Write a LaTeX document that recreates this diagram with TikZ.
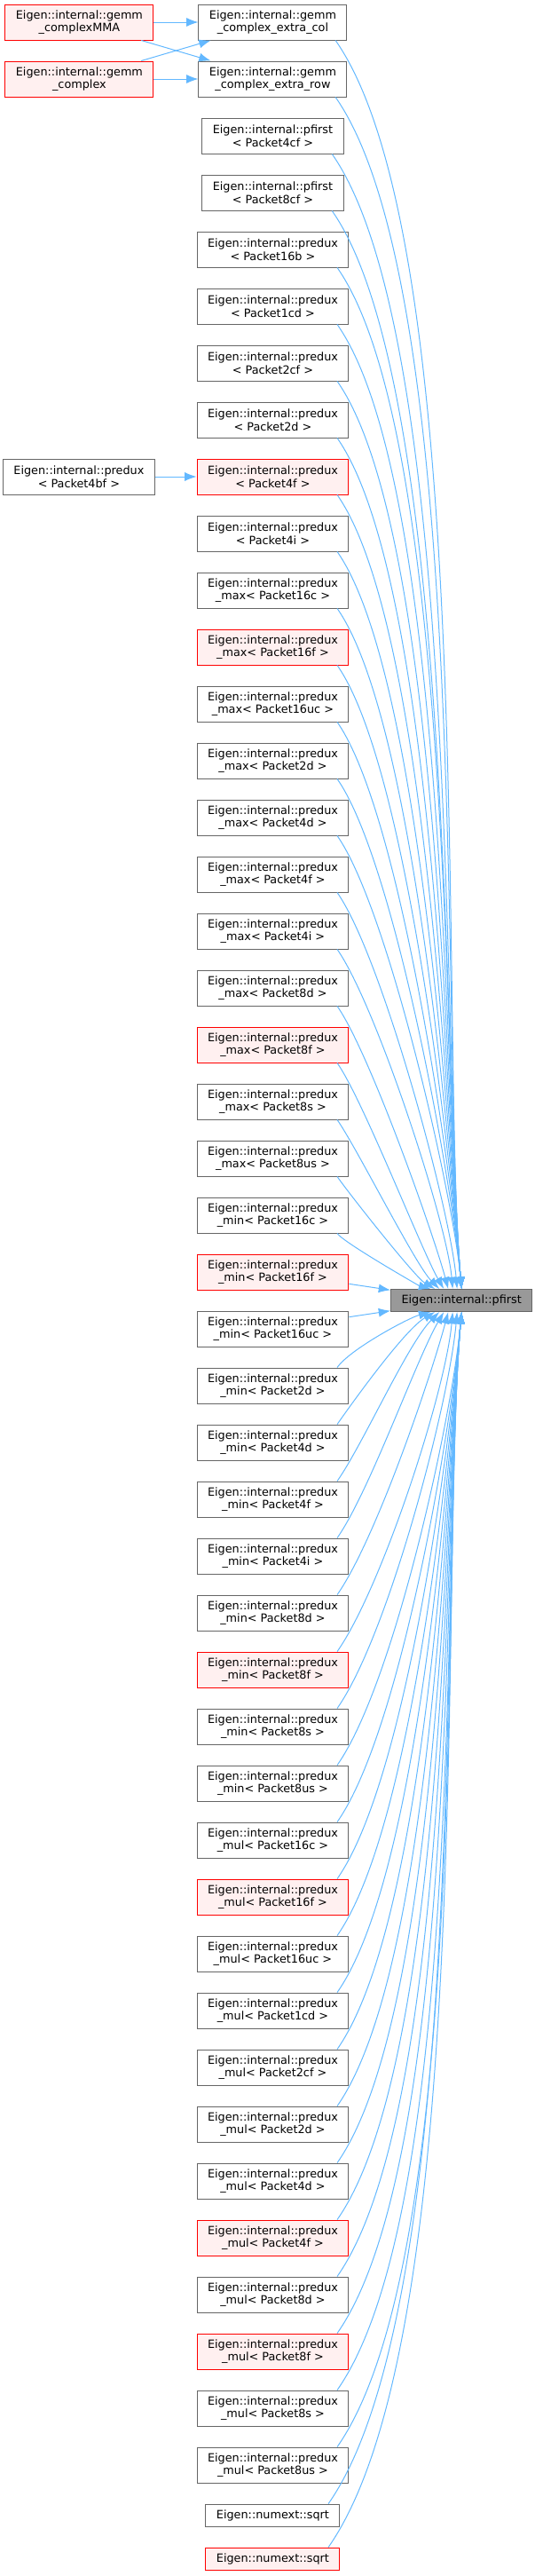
\documentclass[tikz,border=0pt]{standalone}
\usepackage{fontspec}
\setmainfont{DejaVu Sans}
\usepackage{tikz}
\usetikzlibrary{arrows.meta,positioning,calc}
\definecolor{bord}{HTML}{666666}
\definecolor{rouge}{HTML}{FF0000}
\definecolor{rose}{HTML}{FFF0F0}
\definecolor{cible}{HTML}{999999}
\definecolor{lien}{HTML}{63B8FF}
\newcommand{\ei}{Eigen::internal::}
\tikzset{
  fct/.style={rectangle, draw=bord, line width=0.75pt, fill=white, align=center,
              font=\fontsize{9.6}{10.9}\selectfont, minimum height=30pt,
              inner xsep=9pt, inner ysep=1pt},
  fctr/.style={fct, draw=rouge, fill=rose},
  arr/.style={-{Latex[length=10pt,width=7.5pt]}, line width=0.75pt, draw=lien},
}
\begin{document}
\begin{tikzpicture}[node distance=17.25pt]
    \useasboundingbox (-230.6pt,18.75pt) rectangle (221.6pt,-2157.75pt);
    % callers, one column
    \node[fct] (c0) {\ei gemm\\\_complex\_extra\_col};
    \node[fct, below=of c0] (c1) {\ei gemm\\\_complex\_extra\_row};
    \node[fct, below=of c1] (c2) {\ei pfirst\\< Packet4cf >};
    \node[fct, below=of c2] (c3) {\ei pfirst\\< Packet8cf >};
    \node[fct, below=of c3] (c4) {\ei predux\\< Packet16b >};
    \node[fct, below=of c4] (c5) {\ei predux\\< Packet1cd >};
    \node[fct, below=of c5] (c6) {\ei predux\\< Packet2cf >};
    \node[fct, below=of c6] (c7) {\ei predux\\< Packet2d >};
    \node[fctr, below=of c7] (c8) {\ei predux\\< Packet4f >};
    \node[fct, below=of c8] (c9) {\ei predux\\< Packet4i >};
    \node[fct, below=of c9] (c10) {\ei predux\\\_max< Packet16c >};
    \node[fctr, below=of c10] (c11) {\ei predux\\\_max< Packet16f >};
    \node[fct, below=of c11] (c12) {\ei predux\\\_max< Packet16uc >};
    \node[fct, below=of c12] (c13) {\ei predux\\\_max< Packet2d >};
    \node[fct, below=of c13] (c14) {\ei predux\\\_max< Packet4d >};
    \node[fct, below=of c14] (c15) {\ei predux\\\_max< Packet4f >};
    \node[fct, below=of c15] (c16) {\ei predux\\\_max< Packet4i >};
    \node[fct, below=of c16] (c17) {\ei predux\\\_max< Packet8d >};
    \node[fctr, below=of c17] (c18) {\ei predux\\\_max< Packet8f >};
    \node[fct, below=of c18] (c19) {\ei predux\\\_max< Packet8s >};
    \node[fct, below=of c19] (c20) {\ei predux\\\_max< Packet8us >};
    \node[fct, below=of c20] (c21) {\ei predux\\\_min< Packet16c >};
    \node[fctr, below=of c21] (c22) {\ei predux\\\_min< Packet16f >};
    \node[fct, below=of c22] (c23) {\ei predux\\\_min< Packet16uc >};
    \node[fct, below=of c23] (c24) {\ei predux\\\_min< Packet2d >};
    \node[fct, below=of c24] (c25) {\ei predux\\\_min< Packet4d >};
    \node[fct, below=of c25] (c26) {\ei predux\\\_min< Packet4f >};
    \node[fct, below=of c26] (c27) {\ei predux\\\_min< Packet4i >};
    \node[fct, below=of c27] (c28) {\ei predux\\\_min< Packet8d >};
    \node[fctr, below=of c28] (c29) {\ei predux\\\_min< Packet8f >};
    \node[fct, below=of c29] (c30) {\ei predux\\\_min< Packet8s >};
    \node[fct, below=of c30] (c31) {\ei predux\\\_min< Packet8us >};
    \node[fct, below=of c31] (c32) {\ei predux\\\_mul< Packet16c >};
    \node[fctr, below=of c32] (c33) {\ei predux\\\_mul< Packet16f >};
    \node[fct, below=of c33] (c34) {\ei predux\\\_mul< Packet16uc >};
    \node[fct, below=of c34] (c35) {\ei predux\\\_mul< Packet1cd >};
    \node[fct, below=of c35] (c36) {\ei predux\\\_mul< Packet2cf >};
    \node[fct, below=of c36] (c37) {\ei predux\\\_mul< Packet2d >};
    \node[fct, below=of c37] (c38) {\ei predux\\\_mul< Packet4d >};
    \node[fctr, below=of c38] (c39) {\ei predux\\\_mul< Packet4f >};
    \node[fct, below=of c39] (c40) {\ei predux\\\_mul< Packet8d >};
    \node[fctr, below=of c40] (c41) {\ei predux\\\_mul< Packet8f >};
    \node[fct, below=of c41] (c42) {\ei predux\\\_mul< Packet8s >};
    \node[fct, below=of c42] (c43) {\ei predux\\\_mul< Packet8us >};
    \node[fct, minimum height=18.75pt, below=of c43] (c44) {Eigen::numext::sqrt};
    \node[fctr, minimum height=18.75pt, below=of c44] (c45) {Eigen::numext::sqrt};
    % callers of the callers
    \node[fctr, left=37.5pt of c0] (mma) {\ei gemm\\\_complexMMA};
    \node[fctr, left=37.5pt of c1] (cplx) {\ei gemm\\\_complex};
    \node[fct, left=35pt of c8] (bf) {\ei predux\\< Packet4bf >};
    % the function itself
    \coordinate (mid) at ($(c22.east)!0.5!(c23.east)$);
    \node[fct, fill=cible, minimum height=18.75pt, right=35pt of mid] (pf) {\ei pfirst};
    \draw[arr] (mma) -- (c0); \draw[arr] (mma) -- (c1);
    \draw[arr] (cplx) -- (c0); \draw[arr] (cplx) -- (c1);
    \draw[arr] (bf) -- (c8);
    \foreach \i in {0,...,21}{
      \pgfmathsetmacro\dx{min(0,(14-\i)*3.75)}
      \pgfmathsetmacro\ang{max(95,180-15*(22-\i))}
      \pgfmathsetmacro\ln{(22-\i)*9.5}
      \draw[arr] ([xshift=-10pt]c\i.south east) .. controls +(-55:\ln pt) and +(\ang:\ln pt)
        .. ([xshift=\dx pt]pf.north);
    }
    \draw[arr] ([yshift=-10pt]c22.east) -- ([yshift=-1pt]pf.north west);
    \draw[arr] ([yshift=10pt]c23.east) -- ([yshift=1pt]pf.south west);
    \foreach \i in {24,...,45}{
      \pgfmathsetmacro\dx{min(0,(\i-31)*3.75)}
      \pgfmathsetmacro\ang{-max(95,180-15*(\i-23))}
      \pgfmathsetmacro\ln{(\i-22)*9.5}
      \draw[arr] ([xshift=-10pt]c\i.north east) .. controls +(55:\ln pt) and +(\ang:\ln pt)
        .. ([xshift=\dx pt]pf.south);
    }
\end{tikzpicture}
\end{document}
